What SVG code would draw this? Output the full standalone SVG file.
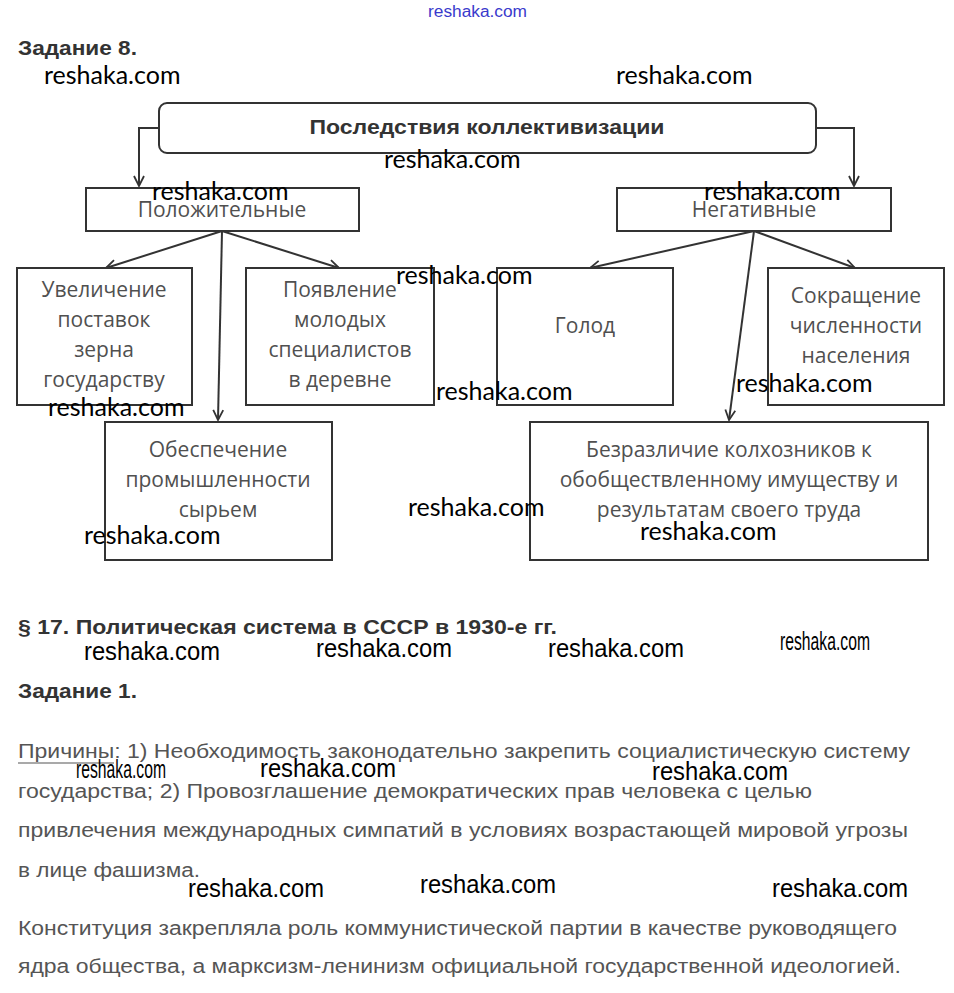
<svg xmlns="http://www.w3.org/2000/svg" width="954" height="993" viewBox="0 0 954 993">
<style>
.box{fill:#fff;stroke:#333;stroke-width:2}
.lbl{font-family:"Open Sans","Liberation Sans",sans-serif;font-size:21px;fill:#505050;text-anchor:middle}
.hd{font-family:"Liberation Sans",Arial,sans-serif;font-weight:bold;fill:#333}
.par{font-family:"Liberation Sans",Arial,sans-serif;font-size:20px;fill:#555}
.wm{font-family:Lato,"Open Sans",sans-serif;font-size:25px;fill:#000}
.wmc{font-family:"Liberation Sans",Arial,sans-serif;font-size:26px;fill:#000}
.con{fill:none;stroke:#333;stroke-width:2;marker-end:url(#arr)}
</style>
<defs>
<marker id="arr" viewBox="0 0 12 12" refX="11" refY="6" markerWidth="12" markerHeight="12" markerUnits="userSpaceOnUse" orient="auto">
<path d="M1,1 L11,6 L1,11" fill="none" stroke="#333" stroke-width="1.8"/>
</marker>
</defs>
<rect width="954" height="993" fill="#fff"/>
<text x="428" y="17" font-family="Liberation Sans,Arial,sans-serif" font-size="16" fill="#3a3acc" textLength="99" lengthAdjust="spacingAndGlyphs">reshaka.com</text>
<text class="hd" x="18" y="55" font-size="20" textLength="119" lengthAdjust="spacingAndGlyphs">Задание 8.</text>

<g id="connectors">
<path class="con" d="M159,128 H139 V186"/>
<path class="con" d="M816,128 H854 V186"/>
<path class="con" d="M222,231 L106,268"/>
<path class="con" d="M222,231 L339,268"/>
<path class="con" d="M222,231 L218,420"/>
<path class="con" d="M754,231 L590,268"/>
<path class="con" d="M754,231 L855,268"/>
<path class="con" d="M754,231 L729,420"/>
</g>

<g id="root">
<rect class="box" x="159" y="103" width="657" height="50" rx="8"/>
<text class="hd" x="487" y="134" font-size="20" text-anchor="middle" textLength="355" lengthAdjust="spacingAndGlyphs">Последствия коллективизации</text>
</g>
<g id="pos">
<rect class="box" x="86" y="188" width="273" height="43"/>
<text class="lbl" x="222" y="217">Положительные</text>
</g>
<g id="neg">
<rect class="box" x="617" y="188" width="274" height="43"/>
<text class="lbl" x="754" y="217">Негативные</text>
</g>
<g id="grain">
<rect class="box" x="17" y="268" width="175" height="137"/>
<text class="lbl" x="104" y="297">Увеличение</text>
<text class="lbl" x="104" y="327">поставок</text>
<text class="lbl" x="104" y="357">зерна</text>
<text class="lbl" x="104" y="387">государству</text>
</g>
<g id="spec">
<rect class="box" x="246" y="268" width="188" height="137"/>
<text class="lbl" x="340" y="297">Появление</text>
<text class="lbl" x="340" y="327">молодых</text>
<text class="lbl" x="340" y="357">специалистов</text>
<text class="lbl" x="340" y="387">в деревне</text>
</g>
<g id="industry">
<rect class="box" x="105" y="422" width="227" height="138"/>
<text class="lbl" x="218" y="457">Обеспечение</text>
<text class="lbl" x="218" y="487">промышленности</text>
<text class="lbl" x="218" y="517">сырьем</text>
</g>
<g id="famine">
<rect class="box" x="497" y="268" width="176" height="137"/>
<text class="lbl" x="585" y="333">Голод</text>
</g>
<g id="population">
<rect class="box" x="768" y="268" width="176" height="137"/>
<text class="lbl" x="856" y="303">Сокращение</text>
<text class="lbl" x="856" y="333">численности</text>
<text class="lbl" x="856" y="363">населения</text>
</g>
<g id="indifference">
<rect class="box" x="530" y="422" width="398" height="138"/>
<text class="lbl" x="729" y="457">Безразличие колхозников к</text>
<text class="lbl" x="729" y="487">обобществленному имуществу и</text>
<text class="lbl" x="729" y="517">результатам своего труда</text>
</g>

<g id="watermarks-top">
<text class="wm" x="44" y="84">reshaka.com</text>
<text class="wm" x="616" y="84">reshaka.com</text>
<text class="wm" x="384" y="168">reshaka.com</text>
<text class="wm" x="152" y="200">reshaka.com</text>
<text class="wm" x="704" y="200">reshaka.com</text>
<text class="wm" x="396" y="284">reshaka.com</text>
<text class="wm" x="48" y="416">reshaka.com</text>
<text class="wm" x="436" y="400">reshaka.com</text>
<text class="wm" x="736" y="392">reshaka.com</text>
<text class="wm" x="84" y="544">reshaka.com</text>
<text class="wm" x="408" y="516">reshaka.com</text>
<text class="wm" x="640" y="540">reshaka.com</text>
</g>

<text class="hd" x="18" y="634" font-size="21" textLength="539" lengthAdjust="spacingAndGlyphs">§ 17. Политическая система в СССР в 1930-е гг.</text>
<text class="hd" x="18" y="698" font-size="20" textLength="119" lengthAdjust="spacingAndGlyphs">Задание 1.</text>

<text class="par" x="18" y="758" textLength="892" lengthAdjust="spacingAndGlyphs">Причины: 1) Необходимость законодательно закрепить социалистическую систему</text>
<line x1="18" y1="763" x2="114" y2="763" stroke="#555" stroke-width="1.2"/>
<text class="par" x="18" y="798" textLength="794" lengthAdjust="spacingAndGlyphs">государства; 2) Провозглашение демократических прав человека с целью</text>
<text class="par" x="18" y="837" textLength="890" lengthAdjust="spacingAndGlyphs">привлечения международных симпатий в условиях возрастающей мировой угрозы</text>
<text class="par" x="18" y="877" textLength="182" lengthAdjust="spacingAndGlyphs">в лице фашизма.</text>
<text class="par" x="18" y="935" textLength="879" lengthAdjust="spacingAndGlyphs">Конституция закрепляла роль коммунистической партии в качестве руководящего</text>
<text class="par" x="18" y="973" textLength="883" lengthAdjust="spacingAndGlyphs">ядра общества, а марксизм-ленинизм официальной государственной идеологией.</text>

<g id="watermarks-bottom">
<text class="wmc" x="84" y="660" textLength="136" lengthAdjust="spacingAndGlyphs">reshaka.com</text>
<text class="wmc" x="316" y="657" textLength="136" lengthAdjust="spacingAndGlyphs">reshaka.com</text>
<text class="wmc" x="548" y="657" textLength="136" lengthAdjust="spacingAndGlyphs">reshaka.com</text>
<text class="wmc" x="780" y="650" font-size="16" textLength="90" lengthAdjust="spacingAndGlyphs">reshaka.com</text>
<text class="wmc" x="76" y="778" font-size="16" textLength="90" lengthAdjust="spacingAndGlyphs">reshaka.com</text>
<text class="wmc" x="260" y="777" textLength="136" lengthAdjust="spacingAndGlyphs">reshaka.com</text>
<text class="wmc" x="652" y="780" textLength="136" lengthAdjust="spacingAndGlyphs">reshaka.com</text>
<text class="wmc" x="188" y="897" textLength="136" lengthAdjust="spacingAndGlyphs">reshaka.com</text>
<text class="wmc" x="420" y="893" textLength="136" lengthAdjust="spacingAndGlyphs">reshaka.com</text>
<text class="wmc" x="772" y="897" textLength="136" lengthAdjust="spacingAndGlyphs">reshaka.com</text>
</g>
</svg>
